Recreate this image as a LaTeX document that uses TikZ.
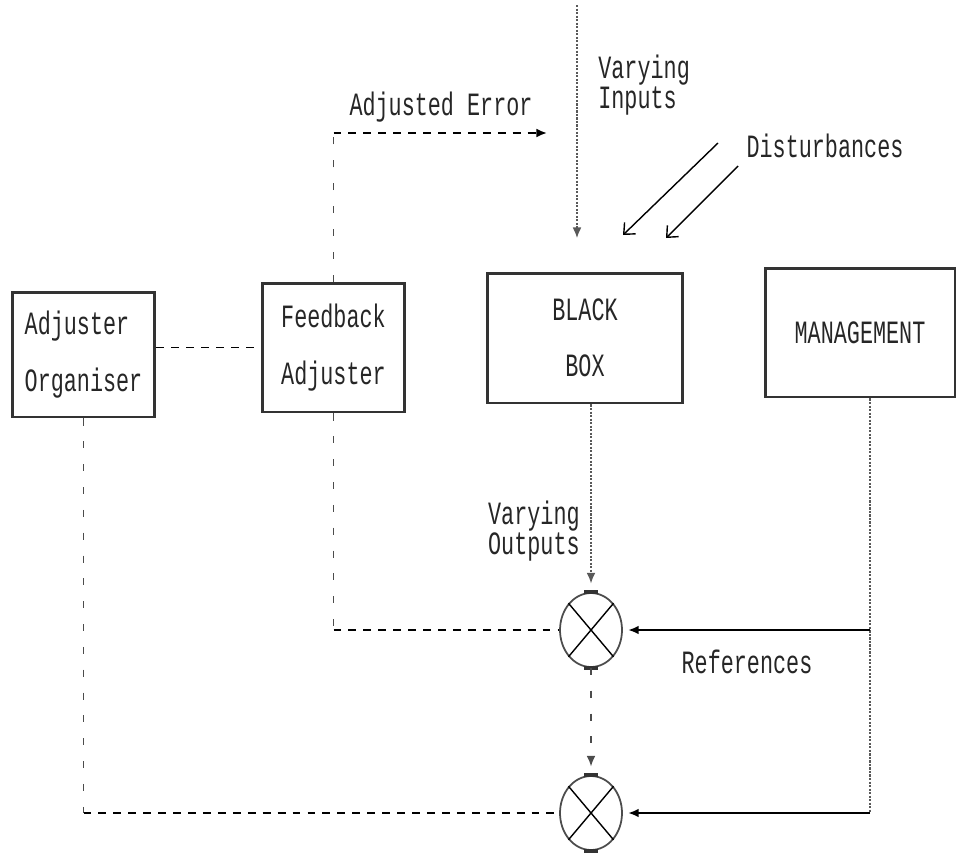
\documentclass[tikz,border=0pt]{standalone}
\usepackage{fontspec}
\newfontfamily\dmfont[FakeStretch=0.67]{Liberation Mono}
\usetikzlibrary{shapes.geometric,arrows.meta}
\begin{document}
\begin{tikzpicture}[x=0.02cm,y=-0.02cm,
  txt/.style={font={\dmfont\fontsize{18.5}{32}\selectfont}, inner sep=0pt, text=black!85},
  twoline/.style={font={\dmfont\fontsize{18.5}{#1}\selectfont\lineskiplimit=-30pt}},
  box/.style={draw=black!80, line width=1.7pt, inner sep=0pt, txt},
  sumj/.style={ellipse, draw=black!70, line width=1pt, minimum width=1.24cm, minimum height=1.48cm, inner sep=0pt},
  xline/.style={draw=black, line width=0.8pt},
  tab/.style={draw=black!80, line width=2pt},
  dotline/.style={draw=black!65, line width=0.7pt, dash pattern=on 1.2pt off 0.8pt},
  sparse/.style={draw=black!70, line width=0.7pt, dash pattern=on 4pt off 9pt},
  hdash/.style={draw=black, line width=1.1pt, dash pattern=on 4.5pt off 4pt},
  solidline/.style={draw=black, line width=1.1pt},
  thinsolid/.style={draw=black, line width=0.8pt},
  arr/.style={-{Latex[length=6pt,width=5pt]}},
  barb/.style={-{Straight Barb[length=5pt,width=9pt]}}]
\useasboundingbox (0,0) rectangle (960,853);

% boxes
\node[box, align=left, minimum width=2.86cm, minimum height=2.5cm] (ao) at (83.5,354.5) {Adjuster\\Organiser};
\node[box, align=left, minimum width=2.86cm, minimum height=2.58cm] (fa) at (333.5,347.5) {Feedback\\Adjuster};
\node[box, align=center, minimum width=3.92cm, minimum height=2.6cm] (bb) at (585,338) {BLACK\\BOX};
\node[box, minimum width=3.8cm, minimum height=2.58cm] (mg) at (860,332.5) {MANAGEMENT};

% summing junctions
\node[sumj] (c1) at (591,630) {};
\node[sumj] (c2) at (591,813) {};
\foreach \c in {c1,c2}{
  \draw[xline] (\c.north west) -- (\c.south east);
  \draw[xline] (\c.north east) -- (\c.south west);
  \draw[tab] ([xshift=-0.14cm]\c.north) -- ([xshift=0.14cm]\c.north);
  \draw[tab] ([xshift=-0.14cm]\c.south) -- ([xshift=0.14cm]\c.south);
}

% labels
\node[txt] (ae) at (441,107) {Adjusted Error};
\node[txt, twoline=17pt, align=left, anchor=west] (vin) at (598,85) {Varying\\Inputs};
\node[txt] (dist) at (825,146) {Disturbances};
\node[txt, twoline=17.5pt, align=right, anchor=east] (vout) at (580,531) {Varying\\Outputs};
\node[txt] (ref) at (747,662) {References};

% free coordinates
\coordinate (vitop) at (577,5);
\coordinate (vitip) at (577,238);
\coordinate (aetip) at (547,133);
\coordinate (d1s) at (718,143);
\coordinate (d1e) at (623,235);
\coordinate (d2s) at (738,166);
\coordinate (d2e) at (666,238);
\coordinate (mgo) at ([xshift=0.2cm]mg.south);

% connectors
\draw[dotline, arr] (vitop) -- (vitip);
\draw[sparse] (fa.north) -- (fa.north |- aetip);
\draw[hdash, arr] (fa.north |- aetip) -- (aetip);
\draw[thinsolid, barb] (d1s) -- (d1e);
\draw[thinsolid, barb] (d2s) -- (d2e);
\draw[hdash] (ao.east |- fa.west) -- (fa.west);
\draw[dotline, arr, shorten >=5pt] (bb.south -| c1.north) -- (c1.north);
\draw[sparse, arr, shorten >=5pt] (c1.south) -- (c2.north);
\draw[dotline] (mgo) -- (mgo |- c2.east);
\draw[solidline, arr, shorten >=3pt] (mgo |- c1.east) -- (c1.east);
\draw[solidline, arr, shorten >=3pt] (mgo |- c2.east) -- (c2.east);
\draw[sparse] (fa.south) -- (fa.south |- c1.west);
\draw[hdash] (fa.south |- c1.west) -- (c1.west);
\draw[sparse] (ao.south) -- (ao.south |- c2.west);
\draw[hdash] (ao.south |- c2.west) -- (c2.west);
\end{tikzpicture}
\end{document}
